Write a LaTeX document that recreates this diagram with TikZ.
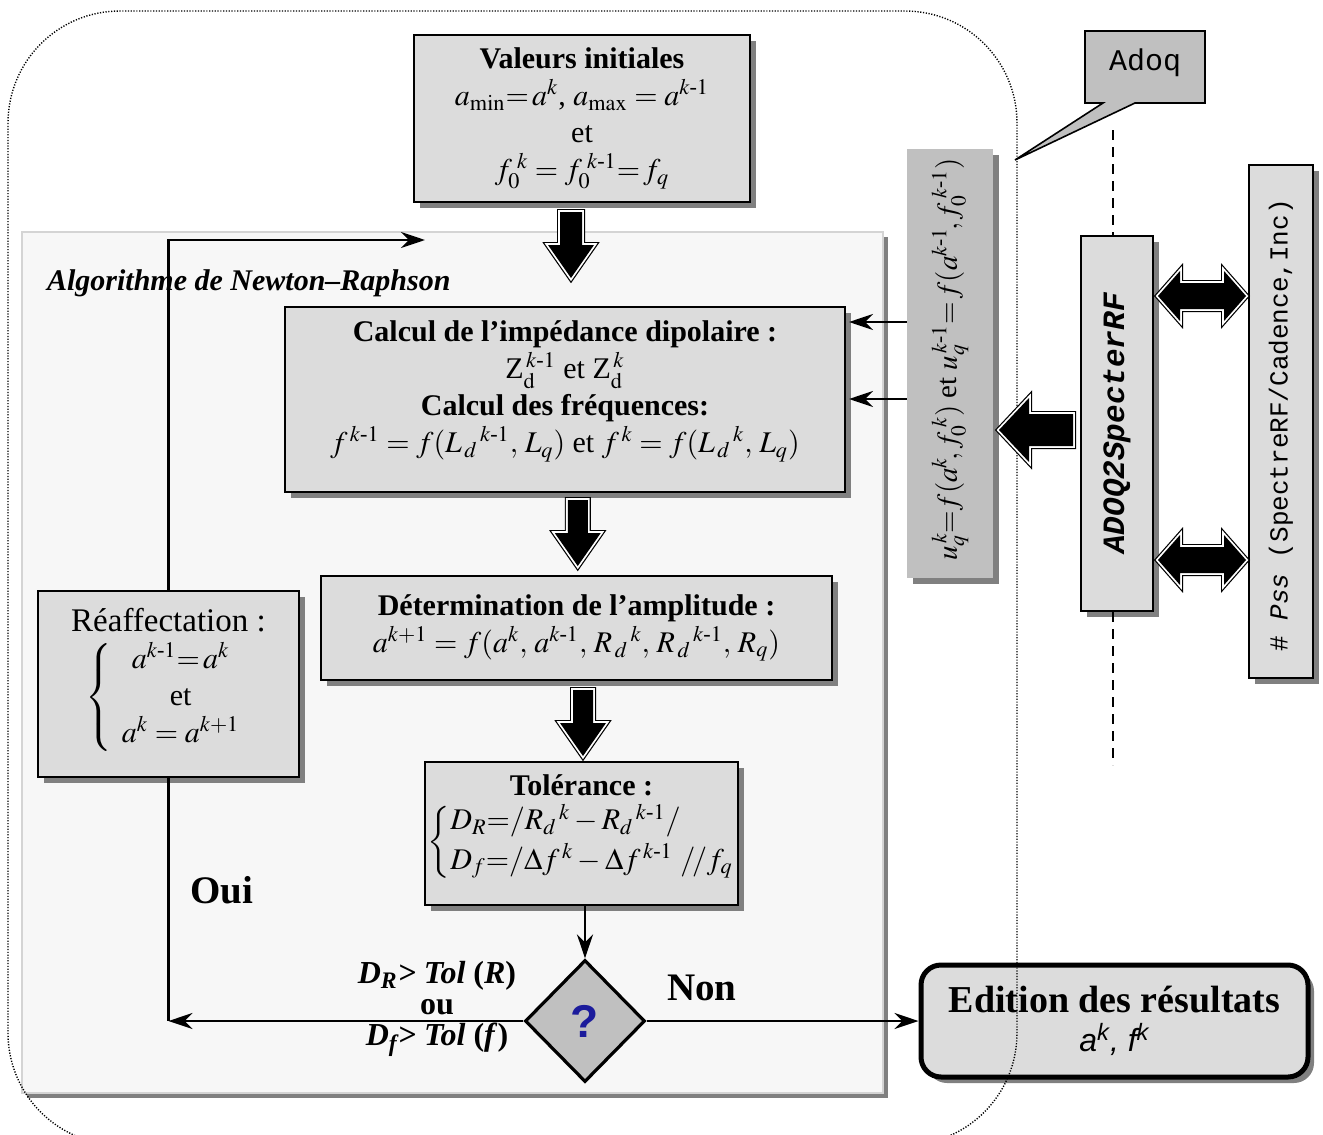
\documentclass[tikz,border=0pt]{standalone}
\usepackage{amsmath}
\usepackage{mathptmx}
\usepackage{fontspec}
\setmainfont{Liberation Serif}
\setmonofont{Liberation Mono}
\newfontfamily\arialf{Liberation Sans}
\usetikzlibrary{arrows.meta,shapes.geometric,shadows,calc}
\definecolor{boxgray}{HTML}{DCDCDC}
\definecolor{midgray}{HTML}{C0C0C0}
\definecolor{shadowgray}{HTML}{808080}
\definecolor{panelgray}{HTML}{F7F7F7}
\definecolor{paneledge}{HTML}{D4D4D4}
\definecolor{qblue}{HTML}{1C1C9C}
\newcommand\kmo{k\text{-}1}
\newcommand\blockarrow[5]{%
  \begin{scope}[#1]
    \draw[black,line width=3pt] (-#2,0) -- (#2,0) -- (#2,#3) -- (#4,#3) -- (0,#5) -- (-#4,#3) -- (-#2,#3) -- cycle;
    \draw[white,line width=1.8pt] (-#2,0) -- (#2,0) -- (#2,#3) -- (#4,#3) -- (0,#5) -- (-#4,#3) -- (-#2,#3) -- cycle;
    \fill[black] (-#2,0) -- (#2,0) -- (#2,#3) -- (#4,#3) -- (0,#5) -- (-#4,#3) -- (-#2,#3) -- cycle;
  \end{scope}}
\newcommand\dblblockarrow[1]{%
  \begin{scope}[#1]
    \draw[black,line width=3pt] (-44,0) -- (-22,-25) -- (-22,-13) -- (22,-13) -- (22,-25) -- (44,0) -- (22,25) -- (22,13) -- (-22,13) -- (-22,25) -- cycle;
    \draw[white,line width=1.8pt] (-44,0) -- (-22,-25) -- (-22,-13) -- (22,-13) -- (22,-25) -- (44,0) -- (22,25) -- (22,13) -- (-22,13) -- (-22,25) -- cycle;
    \fill[black] (-44,0) -- (-22,-25) -- (-22,-13) -- (22,-13) -- (22,-25) -- (44,0) -- (22,25) -- (22,13) -- (-22,13) -- (-22,25) -- cycle;
  \end{scope}}
\tikzset{
  shd/.style={drop shadow={shadow xshift=3pt,shadow yshift=-3pt,fill=shadowgray,opacity=1}},
  flowbox/.style={draw=black,line width=1pt,fill=boxgray,shd,align=center,inner sep=0pt,font=\fontsize{15}{18.5}\selectfont},
  boxtext/.style={align=center,inner sep=0pt,font=\fontsize{15}{18.5}\selectfont},
  conn/.style={line width=1.4pt,-{Stealth[length=12pt,width=8pt,inset=4pt]}},
  plainline/.style={line width=1.4pt},
  boldlabel/.style={font=\fontsize{19.5}{22}\selectfont\bfseries},
}
\begin{document}
\begin{tikzpicture}[x=0.5pt,y=-0.5pt]
\useasboundingbox (0,0) rectangle (1323,1135);
\fill[white] (0,0) rectangle (1323,1135);

% Newton-Raphson panel
\node[fill=panelgray,draw=paneledge,line width=0.8pt,
      drop shadow={shadow xshift=2.5pt,shadow yshift=-2.5pt,fill=shadowgray,opacity=1},
      minimum width=430.5pt,minimum height=430.5pt,inner sep=0pt] (panel) at (452.5,662.5) {};
\node[font=\fontsize{15}{18}\selectfont\bfseries\itshape,anchor=west] (nrlabel) at (40,283) {Algorithme de Newton–Raphson};

% main boxes
\node[flowbox,minimum width=168pt,minimum height=83.5pt] (init) at (582,118.5)
 {{\bfseries Valeurs initiales}\\
  $a_{\mathrm{min}}{=}\,a^k$, $a_{\mathrm{max}}=a^{\kmo}$\\
  et\\
  $f_0^{\;k}=f_0^{\;\kmo}{=}\,f_q$};

\node[flowbox,minimum width=280pt,minimum height=92.5pt] (calc) at (565,399.5) {};
\node[boxtext] (calctext) at ($(calc.center)+(0,-8)$)
 {{\bfseries Calcul de l’impédance dipolaire :}\\
  Z$_{\mathrm{d}}^{\,\kmo}$ et Z$_{\mathrm{d}}^{\,k}$\\
  {\bfseries Calcul des fréquences:}\\
  $f^{\,\kmo}=f(L_{\,d}{}^{\,\kmo},\,L_q)$ et $f^{\,k}=f(L_{\,d}{}^{\,k},\,L_q)$};

\node[flowbox,minimum width=255.5pt,minimum height=52pt] (amp) at (576.5,628)
 {{\bfseries Détermination de l’amplitude :}\\
  $a^{k+1}=f(a^k,\,a^{\kmo},\,R_{\,d}{}^{\,k},\,R_{\,d}{}^{\,\kmo},\,R_q)$};

\node[flowbox,minimum width=156.5pt,minimum height=71.5pt] (tol) at (581.5,833.5)
 {{\bfseries Tolérance :}\\[3pt]
  $\left\{\begin{array}{@{}l@{}}
   D_R{=}/R_d{}^{\,k}-R_d{}^{\,\kmo}/\\[1pt]
   D_f{=}/\Delta f^{\,k}-\Delta f^{\,\kmo}\ /\!/f_q
  \end{array}\right.$\\[3pt]};

\node[flowbox,minimum width=130.5pt,minimum height=93pt] (reaff) at (168.5,684)
 {{\fontsize{16.5}{18}\selectfont Réaffectation :}\\[4pt]
  $\left\{\begin{array}{c}
   a^{\kmo}{=}\,a^k\\
   \text{et}\\
   a^k=a^{k+1}
  \end{array}\right.$\\[2pt]};

\node[diamond,draw=black,line width=1.6pt,fill=midgray,minimum width=60pt,minimum height=61pt,inner sep=0pt] (dia) at (585,1021)
 {\arialf\bfseries\fontsize{23}{23}\selectfont\color{qblue}?};

\node[draw=black,line width=2.5pt,rounded corners=10pt,fill=boxgray,shd,minimum width=193.5pt,minimum height=56pt,align=center,inner sep=0pt] (edit) at (1114.5,1021)
 {{\fontsize{19}{20}\selectfont\bfseries Edition des résultats}\\[4pt]
  {\fontsize{16}{18}\selectfont\arialf\itshape a\textsuperscript{k}, f\textsuperscript{k}}};

% labels
\node[boldlabel] (oui) at (222,890) {Oui};
\node[boldlabel] (non) at (702,988) {Non};
\node[font=\fontsize{16}{15.5}\selectfont\bfseries,align=center] (cond) at (437,1009)
 {{\itshape D\textsubscript{R}> Tol} (\textit{R})\\ ou\\ {\itshape D\textsubscript{f}> Tol} (\textit{f})};

% right side
\node[fill=midgray,shd,minimum width=43pt,minimum height=214.5pt,inner sep=0pt] (uq) at (950,363.5) {};
\node[rotate=90,font=\fontsize{14.5}{18}\selectfont] (uqtext) at ($(uq.center)+(0,-4)$)
 {$u_q^{\,k}{=}f(a^k\!,f_0^{\;k})$ et $u_q^{\,\kmo}{=}\,f(a^{\kmo}\!,f_0^{\;\kmo})$};

\node[flowbox,minimum width=36pt,minimum height=187.5pt] (adoq2) at (1117,423.5) {};
\node[rotate=90,font=\fontsize{15.5}{18}\selectfont\ttfamily\bfseries\itshape] (adoq2text) at (adoq2.center) {ADOQ2SpecterRF};

\node[flowbox,minimum width=32pt,minimum height=256.5pt] (pss) at (1281,421.5) {};
\node[rotate=90,font=\fontsize{13}{16}\selectfont\ttfamily] (psstext) at ($(pss.center)+(0,4)$) {\# \textit{Pss} (SpectreRF/Cadence,Inc)};

% Adoq callout
\coordinate (tip) at (1015,160);
\draw[fill=midgray,line width=0.8pt] (1085,31) -- (1205,31) -- (1205,103) -- (1135,103) -- (tip) -- (1103,103) -- (1085,103) -- cycle;
\node[font=\fontsize{15}{18}\selectfont\ttfamily] (adoq) at (1145,63) {Adoq};

% dashed lifeline
\coordinate (dtop) at (1113,130);
\coordinate (dbot) at (1113,765);
\draw[line width=1pt,dash pattern=on 5pt off 3.5pt] (dtop) -- (dtop |- adoq2.north);
\draw[line width=1pt,dash pattern=on 5pt off 3.5pt] (dbot |- adoq2.south) -- (dbot);

% connectors
\coordinate (corner) at (reaff.south |- dia.west);
\coordinate (loopend) at (425,240);
\draw[plainline] (reaff.south) -- (corner);
\draw[conn] (dia.west) -- (corner);
\draw[conn] (reaff.north) |- (loopend);
\draw[conn] (dia.north |- tol.south) -- (dia.north);
\draw[conn] (dia.east) -- (edit.west);
\draw[conn] (uq.west |- 0,322) -- ([xshift=1.5pt]calc.east |- 0,322);
\draw[conn] (uq.west |- 0,399) -- ([xshift=1.5pt]calc.east |- 0,399);

% outer dotted frame
\draw[line width=0.7pt,dash pattern=on 0.6pt off 0.8pt,rounded corners=56pt] (8,11) rectangle (1017,1145);

% block arrows
\blockarrow{shift={($(init.south)!0.5!(calc.north)+(-2.5,-42.5)$)}}{11}{33}{23}{66}
\blockarrow{shift={($(calc.south)!0.5!(amp.north)+(7,-34)$)}}{10}{33}{23}{66}
\blockarrow{shift={($(amp.south)!0.5!(tol.north)+(4,-31)$)}}{10}{33}{23}{66}
\blockarrow{shift={($(adoq2.west)+(-7,6.5)$)},rotate=-90}{16}{44}{32}{74}
\dblblockarrow{shift={($(adoq2.east)!0.5!(pss.west)+(1,-126.5)$)}}
\dblblockarrow{shift={($(adoq2.east)!0.5!(pss.west)+(1,137.5)$)}}
\end{tikzpicture}
\end{document}
